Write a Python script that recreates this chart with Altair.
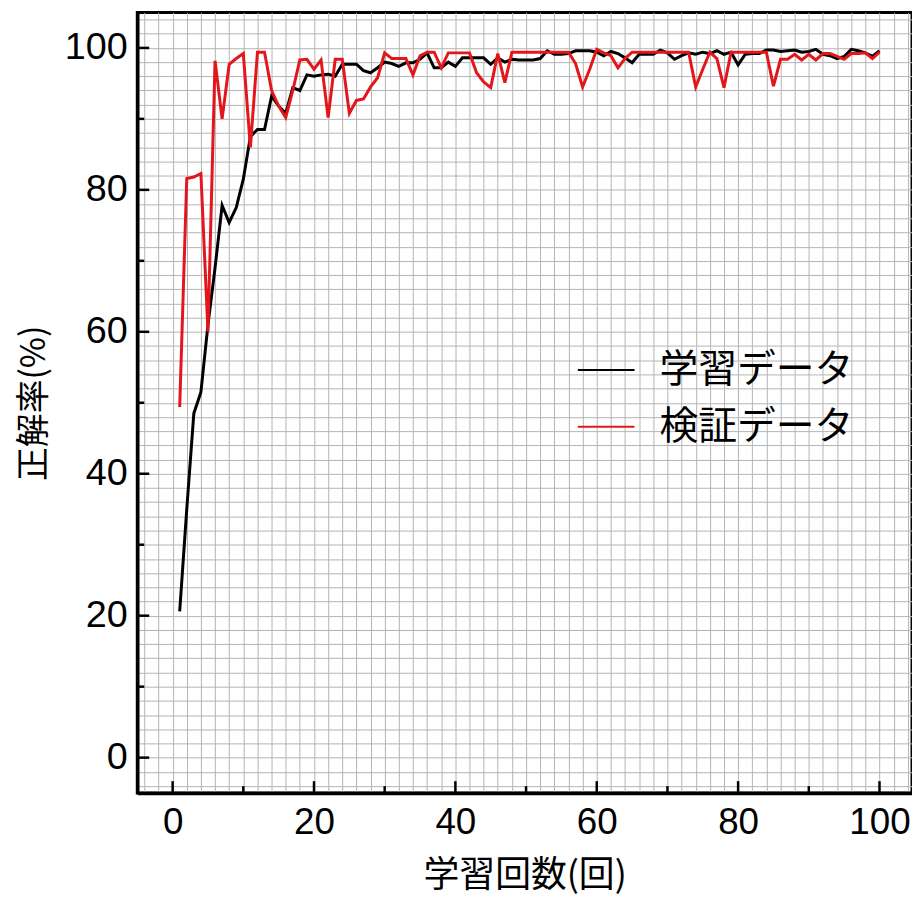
import altair as alt
import pandas as pd

epochs = list(range(1, 101))

train_acc = [
    20.6, 35.0, 48.5, 51.5, 61.0, 69.0, 77.8, 75.4, 77.5, 81.5,
    87.5, 88.5, 88.5, 93.2, 91.8, 90.8, 94.4, 94.0, 96.2, 96.0,
    96.2, 96.3, 96.0, 97.7, 97.7, 97.7, 96.8, 96.5, 97.2, 98.0,
    97.8, 97.4, 97.9, 97.9, 98.4, 99.3, 97.2, 97.2, 98.0, 97.4,
    98.6, 98.6, 98.6, 98.6, 97.7, 98.6, 98.0, 98.4, 98.3, 98.3,
    98.3, 98.5, 99.6, 99.1, 99.1, 99.2, 99.6, 99.6, 99.6, 99.4,
    98.9, 99.5, 99.2, 98.6, 97.9, 99.1, 99.1, 99.1, 99.7, 99.3,
    98.4, 98.9, 99.3, 99.1, 99.4, 99.2, 99.6, 99.1, 99.4, 97.6,
    99.1, 99.2, 99.2, 99.7, 99.7, 99.5, 99.6, 99.7, 99.4, 99.5,
    99.8, 99.1, 98.9, 98.5, 98.8, 99.8, 99.6, 99.3, 98.8, 99.6,
]

val_acc = [
    49.4, 81.6, 81.8, 82.3, 60.0, 98.2, 90.0, 97.7, 98.5, 99.2,
    86.0, 99.4, 99.4, 94.0, 91.8, 90.2, 94.0, 98.3, 98.4, 97.0,
    98.3, 90.2, 98.4, 98.4, 90.8, 92.6, 92.8, 94.5, 95.8, 99.3,
    98.5, 98.5, 98.5, 96.2, 98.9, 99.4, 99.4, 97.2, 99.3, 99.3,
    99.3, 99.3, 96.5, 95.2, 94.4, 99.2, 95.1, 99.4, 99.4, 99.4,
    99.4, 99.4, 99.4, 99.4, 99.4, 99.4, 97.8, 94.5, 97.0, 99.8,
    99.3, 98.9, 97.2, 98.5, 99.4, 99.4, 99.4, 99.4, 99.4, 99.4,
    99.4, 99.4, 99.4, 94.5, 97.0, 99.4, 98.5, 94.4, 99.4, 99.4,
    99.4, 99.4, 99.4, 99.4, 94.6, 98.4, 98.4, 99.1, 98.3, 99.1,
    98.3, 99.2, 99.2, 98.8, 98.4, 99.2, 99.2, 99.3, 98.5, 99.4,
]

series_names = ["学習データ", "検証データ"]
series_colors = ["#000000", "#e3161b"]

grid_values = list(range(-4, 106, 2))
major_ticks = [0, 20, 40, 60, 80, 100]
minor_ticks = [10, 30, 50, 70, 90]

W, H = 779, 785
LATIN = "Liberation Sans"
CJK = "Noto Sans CJK JP"

df = pd.DataFrame({
    "epoch": epochs + epochs,
    "acc": train_acc + val_acc,
    "series": [series_names[0]] * len(epochs) + [series_names[1]] * len(epochs),
    "order": [0] * len(epochs) + [1] * len(epochs),
})

x_scale = alt.Scale(domain=[-5, 104.6], nice=False, zero=False)
y_scale = alt.Scale(domain=[-5, 105], nice=False, zero=False)

label_expr = "datum.value % 20 == 0 ? datum.label : ''"


def make_x_axis():
    return alt.Axis(
        values=grid_values, labelExpr=label_expr, grid=True, ticks=False,
        gridColor="#b4b4b4", gridWidth=1, labelOverlap=False, labelFlush=False,
        domain=True, domainColor="black", domainWidth=3.5,
        labelFont=LATIN, labelFontSize=37, labelColor="black", labelPadding=12,
        title="学習回数(回)", titleFont=CJK, titleFontSize=36, titleFontWeight="normal",
        titleColor="black", titlePadding=18,
    )


def make_y_axis():
    return alt.Axis(
        values=grid_values, labelExpr=label_expr, grid=True, ticks=False,
        gridColor="#b4b4b4", gridWidth=1, labelOverlap=False, labelFlush=False,
        domain=True, domainColor="black", domainWidth=3.5,
        labelFont=LATIN, labelFontSize=38, labelColor="black", labelPadding=10,
        title="正解率(%)", titleFont=CJK, titleFontSize=34, titleFontWeight="normal",
        titleColor="black", titlePadding=13,
    )


lines = alt.Chart(df).mark_line(strokeWidth=3).encode(
    x=alt.X("epoch:Q", scale=x_scale, axis=make_x_axis()),
    y=alt.Y("acc:Q", scale=y_scale, axis=make_y_axis()),
    color=alt.Color(
        "series:N",
        scale=alt.Scale(domain=series_names, range=series_colors),
        sort=series_names,
        legend=alt.Legend(
            title=None, orient="none", legendX=442, legendY=330,
            direction="vertical", symbolType="stroke", symbolSize=3249,
            symbolStrokeWidth=2, labelFont=CJK, labelFontSize=39,
            labelColor="black", labelOffset=24, rowPadding=7, padding=0,
            labelLimit=400,
        ),
    ),
    detail="series:N",
    order="order:Q",
)

xt_major = alt.Chart(pd.DataFrame({"epoch": major_ticks})).mark_rule(
    color="black", strokeWidth=2.5).encode(
    x=alt.X("epoch:Q", scale=x_scale, axis=make_x_axis()),
    y=alt.value(H), y2=alt.value(H - 12))
xt_minor = alt.Chart(pd.DataFrame({"epoch": minor_ticks})).mark_rule(
    color="black", strokeWidth=2.5).encode(
    x=alt.X("epoch:Q", scale=x_scale, axis=make_x_axis()),
    y=alt.value(H), y2=alt.value(H - 7))
yt_major = alt.Chart(pd.DataFrame({"acc": major_ticks})).mark_rule(
    color="black", strokeWidth=2.5).encode(
    y=alt.Y("acc:Q", scale=y_scale, axis=make_y_axis()),
    x=alt.value(0), x2=alt.value(12))
yt_minor = alt.Chart(pd.DataFrame({"acc": minor_ticks})).mark_rule(
    color="black", strokeWidth=2.5).encode(
    y=alt.Y("acc:Q", scale=y_scale, axis=make_y_axis()),
    x=alt.value(0), x2=alt.value(7))

chart = alt.layer(lines, xt_major, xt_minor, yt_major, yt_minor).properties(
    width=W, height=H,
    autosize=alt.AutoSizeParams(type="none"),
    padding={"left": 130, "top": 2, "right": 0, "bottom": 100},
    background="white",
).configure_view(stroke="black", strokeWidth=3)

chart.save("out.html", embed_options={"renderer": "svg", "actions": False})
